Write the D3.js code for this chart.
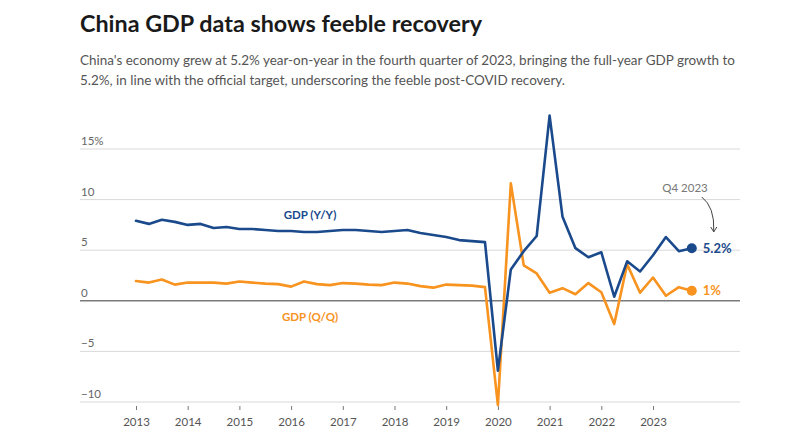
<!DOCTYPE html>
<html>
<head>
<meta charset="utf-8">
<script src="https://cdn.jsdelivr.net/npm/d3@7/dist/d3.min.js"></script>
<style>
  html, body { margin: 0; padding: 0; background: #fff; }
  svg { display: block; font-family: "Lato", "Source Sans Pro", sans-serif; }
</style>
</head>
<body>
<svg id="chart" width="800" height="447"></svg>
<script>
// ---- Data ----
const periods = [
  "2013Q1","2013Q2","2013Q3","2013Q4","2014Q1","2014Q2","2014Q3","2014Q4",
  "2015Q1","2015Q2","2015Q3","2015Q4","2016Q1","2016Q2","2016Q3","2016Q4",
  "2017Q1","2017Q2","2017Q3","2017Q4","2018Q1","2018Q2","2018Q3","2018Q4",
  "2019Q1","2019Q2","2019Q3","2019Q4","2020Q1","2020Q2","2020Q3","2020Q4",
  "2021Q1","2021Q2","2021Q3","2021Q4","2022Q1","2022Q2","2022Q3","2022Q4",
  "2023Q1","2023Q2","2023Q3","2023Q4"
];
const gdpYoY = [
  7.9, 7.6, 8.0, 7.8,  7.5, 7.6, 7.2, 7.3,  7.1, 7.1, 7.0, 6.9,  6.9, 6.8, 6.8, 6.9,
  7.0, 7.0, 6.9, 6.8,  6.9, 7.0, 6.7, 6.5,  6.3, 6.0, 5.9, 5.8,  -6.9, 3.1, 4.9, 6.4,
  18.3, 8.3, 5.2, 4.3,  4.8, 0.4, 3.9, 2.9,  4.5, 6.3, 4.9, 5.2
];
const gdpQoQ = [
  1.95, 1.8, 2.1, 1.6,  1.8, 1.8, 1.8, 1.7,  1.9, 1.8, 1.7, 1.65,  1.4, 1.9, 1.65, 1.55,
  1.75, 1.7, 1.6, 1.55,  1.8, 1.7, 1.45, 1.3,  1.6, 1.55, 1.5, 1.35,  -10.3, 11.6, 3.5, 2.7,
  0.8, 1.25, 0.65, 1.75,  0.85, -2.3, 3.6, 0.8,  2.3, 0.5, 1.35, 1.0
];
const yTicks = [-10, -5, 0, 5, 10, 15];
const yTickLabels = ["\u221210", "\u22125", "0", "5", "10", "15%"];
const xTicks = [2013, 2014, 2015, 2016, 2017, 2018, 2019, 2020, 2021, 2022, 2023];

const title = "China GDP data shows feeble recovery";
const subtitle = [
  "China's economy grew at 5.2% year-on-year in the fourth quarter of 2023, bringing the full-year GDP growth to",
  "5.2%, in line with the official target, underscoring the feeble post-COVID recovery."
];

const BLUE = "#1a4a8c";
const ORANGE = "#f7931e";

// ---- Setup ----
const svg = d3.select("#chart");
const periodToNum = p => +p.slice(0, 4) + (+p.slice(5) - 1) / 4;

const x = d3.scaleLinear().domain([2013, 2023]).range([136, 653]);
const y = d3.scaleLinear().domain([-10, 15]).range([402, 149]);
const gridX0 = 80, gridX1 = 740;

// Title
const t = svg.append("text")
  .attr("x", 80).attr("y", 32)
  .attr("font-size", 23).attr("font-weight", 700).attr("fill", "#1a1a1a")
  .text(title);
fitWidth(t, 402);

// Subtitle
subtitle.forEach((s, i) => {
  const st = svg.append("text")
    .attr("x", 80).attr("y", 65 + i * 19.5)
    .attr("font-size", 14).attr("fill", "#555")
    .text(s);
  if (i === 0) fitWidth(st, 655);
  else st.attr("font-size", svg.selectAll("text").filter((d, j) => j === 1).attr("font-size"));
});

function fitWidth(sel, target) {
  const fs = +sel.attr("font-size");
  const w = sel.node().getComputedTextLength();
  sel.attr("font-size", (fs * target / w).toFixed(2));
}

// Grid lines
const grid = svg.append("g");
grid.selectAll("line").data(yTicks).join("line")
  .attr("x1", gridX0).attr("x2", gridX1)
  .attr("y1", d => y(d)).attr("y2", d => y(d))
  .attr("stroke", d => d === 0 ? "#7a7a7a" : "#d9d9d9")
  .attr("stroke-width", d => d === 0 ? 1.6 : 1);

// Y labels
svg.append("g").selectAll("text").data(yTicks).join("text")
  .attr("x", 81).attr("y", d => y(d) - 4)
  .attr("font-size", 11.5).attr("fill", "#666")
  .text((d, i) => yTickLabels[i]);

// X axis
const xAxis = d3.axisBottom(x).tickValues(xTicks).tickFormat(d3.format("d")).tickSize(4).tickPadding(8);
const xg = svg.append("g").attr("transform", `translate(0,406)`).call(xAxis);
xg.select(".domain").remove();
xg.selectAll(".tick line").attr("stroke", "#777").attr("stroke-width", 1);
xg.selectAll(".tick text").attr("font-size", 11.5).attr("fill", "#555")
  .attr("font-family", "Lato, sans-serif");

// Lines
const yoyData = periods.map((p, i) => ({ t: periodToNum(p), v: gdpYoY[i] }));
const qoqData = periods.map((p, i) => ({ t: periodToNum(p), v: gdpQoQ[i] }));
const line = d3.line().x(d => x(d.t)).y(d => y(d.v));

svg.append("path").datum(qoqData)
  .attr("d", line).attr("fill", "none").attr("stroke", ORANGE)
  .attr("stroke-width", 2.6).attr("stroke-linejoin", "round").attr("stroke-linecap", "round");
svg.append("path").datum(yoyData)
  .attr("d", line).attr("fill", "none").attr("stroke", BLUE)
  .attr("stroke-width", 2.6).attr("stroke-linejoin", "round").attr("stroke-linecap", "round");

// End dots
const lastY = yoyData[yoyData.length - 1], lastQ = qoqData[qoqData.length - 1];
svg.append("circle").attr("cx", x(lastY.t)).attr("cy", y(lastY.v)).attr("r", 5).attr("fill", BLUE);
svg.append("circle").attr("cx", x(lastQ.t)).attr("cy", y(lastQ.v)).attr("r", 5).attr("fill", ORANGE);

// End labels
svg.append("text").attr("x", x(lastY.t) + 11).attr("y", y(lastY.v) + 4.5)
  .attr("font-size", 13).attr("font-weight", 700).attr("fill", BLUE)
  .text(d3.format(".1f")(lastY.v) + "%");
svg.append("text").attr("x", x(lastQ.t) + 11).attr("y", y(lastQ.v) + 4.5)
  .attr("font-size", 13).attr("font-weight", 700).attr("fill", ORANGE)
  .text(d3.format("d")(lastQ.v) + "%");

// Series labels
svg.append("text").attr("x", 310).attr("y", 219).attr("text-anchor", "middle")
  .attr("font-size", 11.5).attr("font-weight", 700).attr("fill", BLUE).text("GDP (Y/Y)");
svg.append("text").attr("x", 310).attr("y", 321).attr("text-anchor", "middle")
  .attr("font-size", 11.5).attr("font-weight", 700).attr("fill", ORANGE).text("GDP (Q/Q)");

// Annotation
svg.append("text").attr("x", 685).attr("y", 192).attr("text-anchor", "middle")
  .attr("font-size", 11.5).attr("fill", "#777").text("Q4 2023");
const ax = x(lastY.t);
svg.append("path")
  .attr("d", `M${ax + 10},197 Q${ax + 23},207 ${ax + 22},231`)
  .attr("fill", "none").attr("stroke", "#444").attr("stroke-width", 1);
svg.append("path")
  .attr("d", `M${ax + 19},227 L${ax + 22},232 L${ax + 25},227`)
  .attr("fill", "none").attr("stroke", "#444").attr("stroke-width", 1);
</script>
</body>
</html>
